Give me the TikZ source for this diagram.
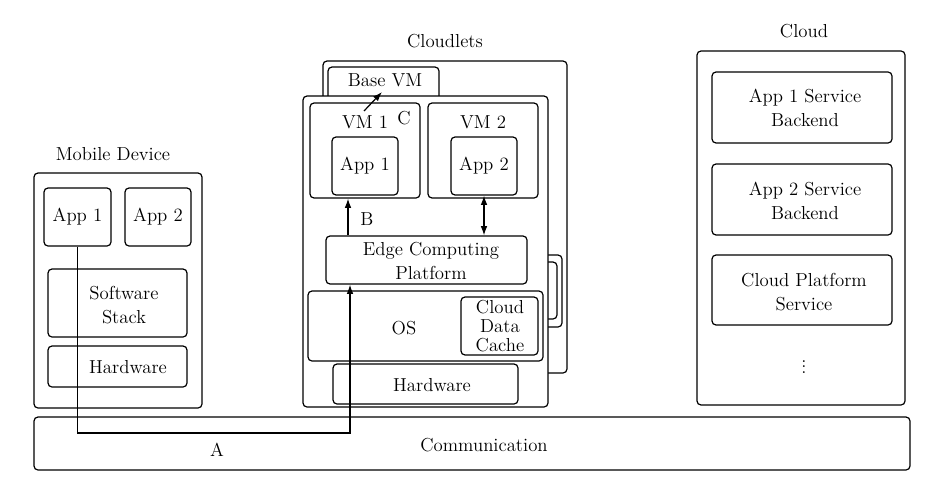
\documentclass[tikz,border=0pt]{standalone}
\usepackage{fontspec}
\usetikzlibrary{arrows.meta,fit}
\begin{document}
\begin{tikzpicture}[x=0.75pt,y=-0.75pt,
  box/.style={draw,rounded corners=3pt,line width=0.9pt,inner sep=0pt},
  wbox/.style={box,fill=white},
  txt/.style={font=\fontsize{14.1}{18.5}\selectfont,align=center,inner sep=0pt},
  conn/.style={line width=0.9pt},
  arr/.style={conn,-{Latex[length=7pt,width=5pt]}},
  darr/.style={conn,{Latex[length=7pt,width=5pt]}-{Latex[length=7pt,width=5pt]}}]
\useasboundingbox (0,0) rectangle (945,496);
% ---------------- Mobile device
\node[txt] (lmob) at (113,154) {Mobile Device};
\node[box,fit={(34,173)(202,408)}] (mob) {};
\node[box,fit={(44,188)(111,246)}] (mapp1) {};
\node[txt] at (mapp1.center) {App 1};
\node[box,fit={(125,188)(191,246)}] (mapp2) {};
\node[txt] at (mapp2.center) {App 2};
\node[box,fit={(48,269)(187,337)}] (msw) {};
\node[txt] at (124,305) {Software\\Stack};
\node[box,fit={(48,346)(187,387)}] (mhw) {};
\node[txt] at (128,367) {Hardware};
% ---------------- Communication
\node[box,fit={(34,417)(910,470)}] (comm) {};
\node[txt] at (484,445) {Communication};
% ---------------- Cloudlets
\node[txt] (lcl) at (445,41) {Cloudlets};
\node[box,fit={(323,61)(567,373)}] (back) {};
\node[box,fit={(328,67)(439,110)}] (base) {};
\node[txt] at (385,80) {Base VM};
\node[box,fit={(540,255)(562,327)}] (side1) {};
\node[box,fit={(540,262)(557,319)}] (side2) {};
\node[wbox,fit={(303,96)(548,407)}] (front) {};
\node[box,fit={(310,103)(420,198)}] (vm1) {};
\node[txt] at (365,122) {VM 1};
\node[txt] (lc) at (404,118) {C};
\node[box,fit={(332,137)(398,195)}] (capp1) {};
\node[txt] at (capp1.center) {App 1};
\node[box,fit={(428,103)(538,198)}] (vm2) {};
\node[txt] at (483,122) {VM 2};
\node[box,fit={(451,137)(517,195)}] (capp2) {};
\node[txt] at (capp2.center) {App 2};
\node[box,fit={(326,236)(527,284)}] (ecp) {};
\node[txt] at (431,261) {Edge Computing\\Platform};
\node[box,fit={(308,291)(543,361)}] (os) {};
\node[txt] at (404,328) {OS};
\node[box,fit={(461,297)(538,355)}] (cache) {};
\node[txt,font=\fontsize{14.1}{14}\selectfont] at (500,326) {Cloud\\Data\\Cache};
\node[box,fit={(333,364)(518,404)}] (chw) {};
\node[txt] at (432,385) {Hardware};
\node[txt] (lb) at (367,219) {B};
% ---------------- Cloud
\node[txt] (lcloud) at (804,31) {Cloud};
\node[box,fit={(697,51)(905,405)}] (cloud) {};
\node[box,fit={(712,72)(892,143)}] (s1) {};
\node[txt] at (805,108) {App 1 Service\\Backend};
\node[box,fit={(712,164)(892,235)}] (s2) {};
\node[txt] at (805,201) {App 2 Service\\Backend};
\node[box,fit={(712,255)(892,325)}] (s3) {};
\node[txt] at (804,292) {Cloud Platform\\Service};
\node[txt] (dots) at (804,363) {$\vdots$};
% ---------------- Connectors
\coordinate (aturn) at (350,433);
\draw[arr] (mapp1.south) |- (aturn) -- (ecp.south -| aturn);
\node[txt] (la) at (217,450) {A};
\coordinate (bx) at (348,0);
\draw[arr] (ecp.north -| bx) -- (vm1.south -| bx);
\coordinate (cs) at (364,111);
\coordinate (ce) at (382,92);
\draw[arr] (cs) -- (ce);
\draw[darr] (capp2.south) -- (ecp.north -| capp2.south);
\end{tikzpicture}
\end{document}
